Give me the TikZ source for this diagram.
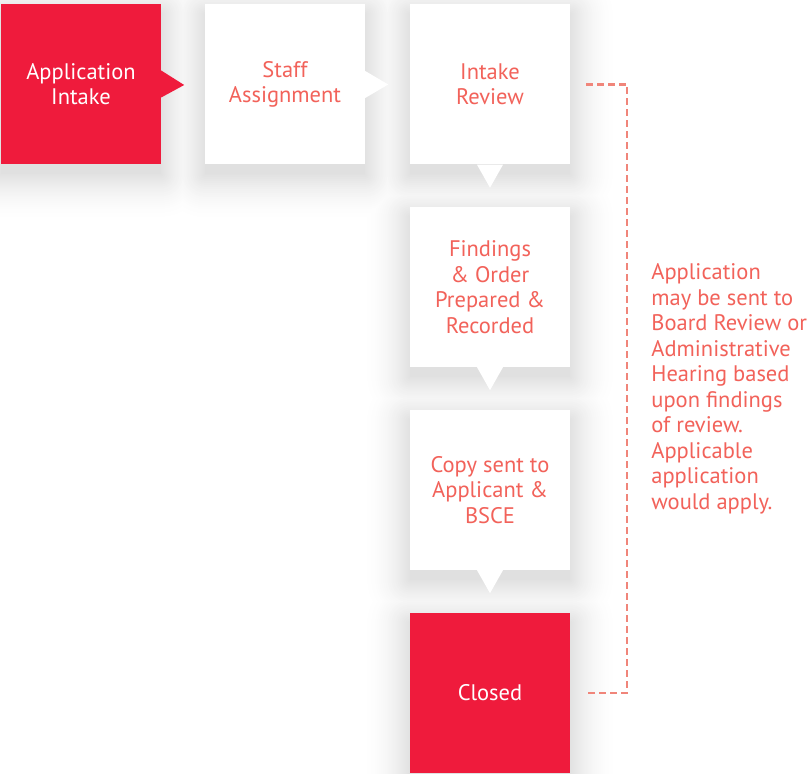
\documentclass[tikz,border=0pt]{standalone}
\usepackage{fontspec}
\setmainfont{PT Sans}
\usetikzlibrary{backgrounds}
\definecolor{bred}{HTML}{EF1B3C}
\definecolor{salmon}{HTML}{F2625A}
\definecolor{dashc}{HTML}{F0857A}
\tikzset{
  box/.style={minimum width=160pt, minimum height=160pt, inner sep=0pt, align=center,
    font=\fontsize{22.5}{25.5}\selectfont},
  redbox/.style={box, fill=bred, text=white},
  whitebox/.style={box, fill=white, text=salmon},
  haze/.style={fill=black!#1},
  notch/.style={fill=#1},
  dashline/.style={draw=dashc, line width=2.4pt, dash pattern=on 7pt off 4pt},
  note/.style={text=salmon, align=left, anchor=west, inner sep=0pt, font=\fontsize{22.5}{25.5}\selectfont}
}
\begin{document}
\begin{tikzpicture}[x=1pt,y=1pt]
\useasboundingbox (0,0) rectangle (812,774);
\node[redbox]   (a) at (81,690)    {Application\\Intake};
\node[whitebox] (b) at (285,689.5) {Staff\\Assignment};
\node[whitebox] (c) at (490,689.5) {Intake\\Review};
\node[whitebox] (d) at (490,487)   {Findings\\\& Order\\Prepared \&\\Recorded};
\node[whitebox] (e) at (490,284)   {Copy sent to\\Applicant \&\\BSCE};
\node[redbox]   (f) at (490,81)    {Closed};
\begin{scope}[on background layer]
  \fill[white] (0,0) rectangle (812,774);
  \foreach \r in {48,46,...,0}{
    \pgfmathsetmacro\p{12*(1-\r/50)^2}
    \foreach \n in {a,b,c,d,e,f}{
      \fill[haze=\p, rounded corners=\r pt+0.1pt]
        ([xshift=-\r pt, yshift=-\r pt-10pt]\n.south west) rectangle
        ([xshift=\r pt, yshift=\r pt-10pt]\n.north east);
    }
  }
\end{scope}
\fill[notch=bred] ([yshift=13.5pt]a.east) -- ([xshift=23pt,yshift=-1pt]a.east) -- ([yshift=-13.5pt]a.east) -- cycle;
\fill[notch=white] ([yshift=13.5pt]b.east) -- ([xshift=23pt]b.east) -- ([yshift=-13.5pt]b.east) -- cycle;
\foreach \n in {c,d,e}{
  \fill[notch=white] ([xshift=-13pt]\n.south) -- ([yshift=-23pt]\n.south) -- ([xshift=13pt]\n.south) -- cycle;
}
\draw[dashline] ([xshift=16pt]c.east) -| ([xshift=57pt]f.east) coordinate (br) -- ([xshift=16pt]f.east);
\path ([xshift=57pt]c.east) -- (br) coordinate[pos=0.5] (mid);
\node[note] (n) at ([xshift=24pt,yshift=0pt]mid) {Application\\may be sent to\\Board Review or\\Administrative\\Hearing based\\upon findings\\of review.\\Applicable\\application\\would apply.};
\end{tikzpicture}
\end{document}
